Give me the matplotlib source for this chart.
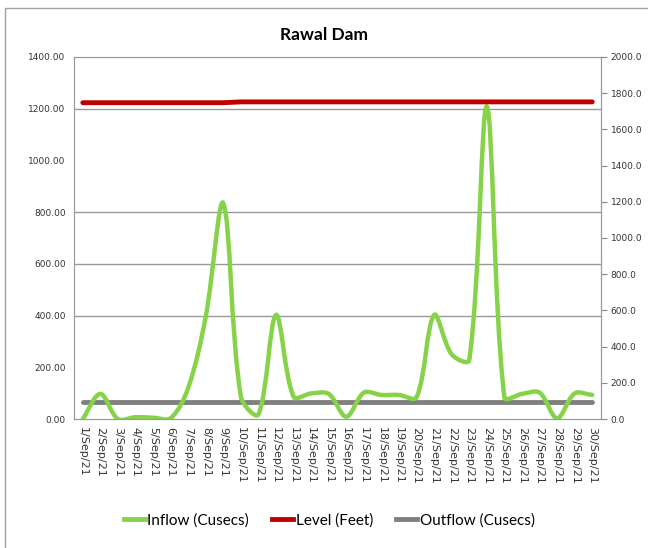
import matplotlib
matplotlib.use("Agg")
import math
import matplotlib.pyplot as plt
from matplotlib.path import Path
from matplotlib.patches import PathPatch
from matplotlib.lines import Line2D

# days of September 2021
days = list(range(1, 31))
day_labels = [f"{d}/Sep/21" for d in days]

# inflow (cusecs), left axis
inflow = [0, 97, 0, 7, 5, 3, 120, 396, 834, 86, 18, 402, 86, 99, 97, 9,
          102, 93, 93, 84, 402, 250, 228, 1208, 84, 97, 102, 3, 99, 93]
# outflow (cusecs), left axis
outflow = [67] * 30
# reservoir level (feet), right axis
level = [1747.5] * 9 + [1752.0] * 21

left_ticks = [0, 200, 400, 600, 800, 1000, 1200, 1400]
right_ticks = [0, 200, 400, 600, 800, 1000, 1200, 1400, 1600, 1800, 2000]
grid_vals = [400, 600, 800, 1200]


def smooth_path(xs, ys, sx, sy, t=1 / 3):
    # Excel-like smoothed line: bezier handles weighted by segment length on screen
    n = len(xs)
    outs, ins = [], []
    for i in range(n):
        xp, yp = (xs[i - 1], ys[i - 1]) if i > 0 else (xs[i], ys[i])
        xn, yn = (xs[i + 1], ys[i + 1]) if i < n - 1 else (xs[i], ys[i])
        l1 = math.hypot((xs[i] - xp) * sx, (ys[i] - yp) * sy)
        l2 = math.hypot((xn - xs[i]) * sx, (yn - ys[i]) * sy)
        tot = l1 + l2 if l1 + l2 > 0 else 1
        dx, dy = xn - xp, yn - yp
        ins.append((xs[i] - dx * t * l1 / tot, ys[i] - dy * t * l1 / tot))
        outs.append((xs[i] + dx * t * l2 / tot, ys[i] + dy * t * l2 / tot))
    verts = [(xs[0], ys[0])]
    codes = [Path.MOVETO]
    for i in range(n - 1):
        verts += [outs[i], ins[i + 1], (xs[i + 1], ys[i + 1])]
        codes += [Path.CURVE4] * 3
    return Path(verts, codes)


fig = plt.figure(figsize=(6.48, 5.48), dpi=100)
fig.add_artist(Line2D([5 / 648, 5 / 648, 1], [0, 1 - 8 / 548, 1 - 8 / 548],
                      transform=fig.transFigure, color="#a0a0a0", lw=1))

ax = fig.add_axes([0.1142, 0.2354, 0.8133, 0.6606])
ax2 = ax.twinx()

for v in grid_vals:
    ax.axhline(v, color="#999999", lw=1, zorder=0)

ax.add_patch(PathPatch(smooth_path(days, inflow, 17.57, 362 / 1400), fill=False,
                       edgecolor="#86d34a", lw=3.2, capstyle="round", zorder=3))
ax.plot(days, outflow, color="#808080", lw=3.5, solid_capstyle="round", zorder=2)
ax2.plot(days, level, color="#c00000", lw=3.5, solid_capstyle="round")

ax.set_xlim(0.5, 30.5)
ax.set_ylim(0, 1400)
ax2.set_ylim(0, 2000)

ax.set_yticks(left_ticks)
ax.set_yticklabels([f"{v:.2f}" for v in left_ticks], fontsize=6.5, color="#333333")
ax2.set_yticks(right_ticks)
ax2.set_yticklabels([f"{v:.1f}" for v in right_ticks], fontsize=6.5, color="#333333")
ax.set_xticks(days)
ax.set_xticklabels(day_labels, rotation=-90, fontsize=8, color="#333333")

ax.tick_params(axis="y", length=0, pad=6)
ax.tick_params(axis="x", length=0, pad=6)
ax2.tick_params(axis="y", length=4, color="#888888", pad=3)

for a in (ax, ax2):
    for s in a.spines.values():
        s.set_color("#999999")
ax.spines["left"].set_color("#cccccc")

fig.text(0.5, 0.936, "Rawal Dam", ha="center", va="center",
         fontsize=12.5, fontweight="bold", family="Lato")

handles = [Line2D([], [], color="#86d34a", lw=3.5),
           Line2D([], [], color="#c00000", lw=3.5),
           Line2D([], [], color="#808080", lw=3.5)]
fig.legend(handles, ["Inflow (Cusecs)", "Level (Feet)", "Outflow (Cusecs)"],
           loc="center", bbox_to_anchor=(0.508, 0.05), ncol=3, frameon=False,
           prop={"family": "Lato", "size": 11},
           handlelength=1.4, handletextpad=0.15, columnspacing=1.5)

fig.savefig("out.png", dpi=100)
